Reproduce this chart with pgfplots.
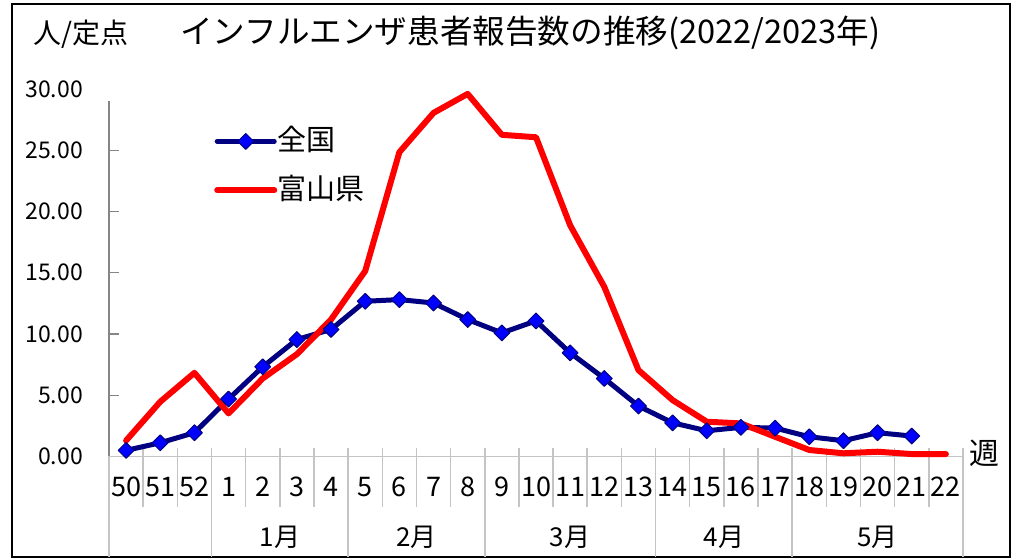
\documentclass[border=0pt]{standalone}
\usepackage{pgfplots}
\pgfplotsset{compat=1.18}
\usepackage{fontspec}
\setmainfont{Noto Sans CJK JP}
\definecolor{navyline}{RGB}{0,0,128}
\definecolor{markblue}{RGB}{0,0,255}
\definecolor{sepgray}{RGB}{196,196,196}
\definecolor{axgray}{RGB}{134,134,134}
\begin{document}
\begin{tikzpicture}[x=1pt,y=1pt]
\path[use as bounding box] (0,0) rectangle (1017,559);
\draw[black, line width=2pt] (12,2) rectangle (1010,555);
\node[anchor=west, inner sep=0pt, font=\fontsize{28}{28}\selectfont] at (33,524.5) {人/定点};
\node[anchor=west, inner sep=0pt, font=\fontsize{32.6}{33}\selectfont] at (180,526) {インフルエンザ患者報告数の推移(2022/2023年)};
\begin{axis}[
  at={(109pt,102.5pt)}, anchor=south west,
  scale only axis, width=854pt, height=367.5pt,
  xmin=-0.5, xmax=24.5, ymin=0, ymax=30,
  clip=false,
  axis lines*=left,
  axis line style={draw=none},
  xtick={0,...,24},
  xticklabels={50,51,52,1,2,3,4,5,6,7,8,9,10,11,12,13,14,15,16,17,18,19,20,21,22},
  xtick style={draw=none},
  xticklabel style={font=\fontsize{27}{27}\selectfont, inner sep=0pt, anchor=center, yshift=-30.5pt},
  ytick={5,10,15,20,25},
  extra y ticks={0,30},
  extra y tick style={major tick length=0pt},
  tick align=inside,
  major tick length=10pt,
  ytick style={axgray, line width=1.2pt},
  yticklabel style={font=\fontsize{23}{23}\selectfont, inner sep=0pt, anchor=east, xshift=-26pt,
    /pgf/number format/fixed, /pgf/number format/fixed zerofill, /pgf/number format/precision=2},
  /pgf/number format/assume math mode=true,
  legend style={at={(0.123,0.892)}, anchor=north west, draw=none, fill=none, inner sep=0pt,
    font=\fontsize{29}{29}\selectfont, row sep=24pt,
    nodes={inner sep=0pt, text height=22pt, text depth=3pt}},
  legend cell align=left,
  legend image code/.code={\draw[#1, mark repeat=2, mark phase=2] plot coordinates {(0pt,0pt) (28.5pt,0pt) (57pt,0pt)};},
]
% separators and axis lines
\pgfplotsinvokeforeach{-0.5,0.5,1.5,3.5,4.5,5.5,7.5,8.5,9.5,11.5,12.5,13.5,14.5,16.5,17.5,18.5,20.5,21.5,22.5,23.5}{
  \draw[sepgray, line width=1.5pt] ([yshift=8pt]axis cs:#1,0) -- ([yshift=-50.5pt]axis cs:#1,0);
}
\pgfplotsinvokeforeach{-0.5,2.5,6.5,10.5,15.5,19.5,24.5}{
  \draw[sepgray, line width=1.5pt] ([yshift=8pt]axis cs:#1,0) -- ([yshift=-100.5pt]axis cs:#1,0);
}
\draw[sepgray, line width=1.5pt] (axis cs:-0.5,0) -- (axis cs:24.5,0);
\draw[axgray, line width=1.5pt] (axis cs:-0.5,29.05) -- (axis cs:-0.5,0);
% month labels
\node[font=\fontsize{26}{26}\selectfont, yshift=-80.5pt] at (axis cs:4.5,0) {1月};
\node[font=\fontsize{26}{26}\selectfont, yshift=-80.5pt] at (axis cs:8.5,0) {2月};
\node[font=\fontsize{26}{26}\selectfont, yshift=-80.5pt] at (axis cs:13,0) {3月};
\node[font=\fontsize{26}{26}\selectfont, yshift=-80.5pt] at (axis cs:17.5,0) {4月};
\node[font=\fontsize{26}{26}\selectfont, yshift=-80.5pt] at (axis cs:22,0) {5月};
\node[font=\fontsize{30}{30}\selectfont, xshift=21pt, yshift=3pt] at (axis cs:24.5,0) {週};
% data
\addplot[navyline, line width=5pt, line cap=round, line join=round,
  mark=square*, mark size=5.6pt,
  mark options={rotate=45, fill=markblue, draw=navyline, line width=1pt, solid}]
coordinates {
(0,0.50) (1,1.12) (2,1.94) (3,4.69) (4,7.32) (5,9.55) (6,10.37) (7,12.67)
(8,12.81) (9,12.53) (10,11.18) (11,10.09) (12,11.07) (13,8.46) (14,6.37)
(15,4.12) (16,2.75) (17,2.10) (18,2.38) (19,2.32) (20,1.61) (21,1.29)
(22,1.94) (23,1.67)
};
\addlegendentry{全国}
\addplot[red, line width=6pt, line cap=round, line join=round]
coordinates {
(0,1.30) (1,4.47) (2,6.83) (3,3.52) (4,6.37) (5,8.35) (6,11.18) (7,15.14)
(8,24.84) (9,28.05) (10,29.60) (11,26.26) (12,26.06) (13,18.87) (14,13.84)
(15,7.05) (16,4.60) (17,2.84) (18,2.70) (19,1.61) (20,0.53) (21,0.26)
(22,0.39) (23,0.20) (24,0.20)
};
\addlegendentry{富山県}
\end{axis}
\end{tikzpicture}
\end{document}
